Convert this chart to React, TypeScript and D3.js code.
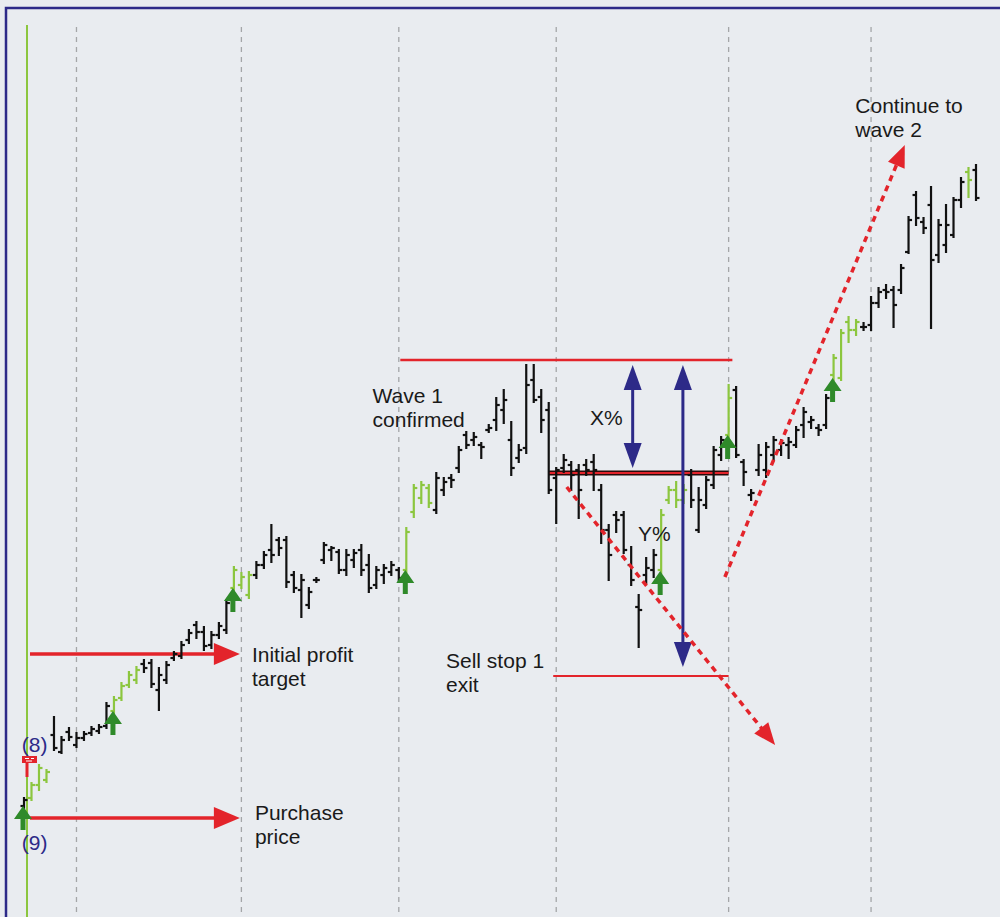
import React, { useEffect, useRef } from "react";
import * as d3 from "d3";

// OHLC bars (arbitrary price units)
const opens = [
  9.4, 10.2, 11.5, 12.0, 16.5, 14.8, 16.8, 15.5, 16.2, 16.7,
  16.9, 17.4, 18.9, 20.2, 21.5, 22.0, 23.6, 23.7, 21.0, 22.0,
  24.2, 24.4, 26.0, 27.5, 26.8, 25.5, 26.5, 27.0, 31.2, 31.5,
  30.5, 32.5, 33.5, 35.0, 36.0, 36.0, 32.5, 31.0, 29.5, 32.0,
  34.0, 35.0, 34.8, 33.0, 34.0, 35.0, 33.5, 31.5, 32.5, 32.8,
  33.0, 33.0, 38.8, 40.2, 41.2, 39.0, 41.0, 42.2, 43.2, 46.5,
  46.0, 45.5, 47.0, 48.0, 49.0, 46.0, 44.2, 45.2, 52.0, 50.3,
  49.0, 42.2, 43.2, 43.5, 43.0, 43.5, 43.8, 41.0, 37.0, 38.5,
  38.5, 33.5, 29.3, 32.5, 33.0, 33.0, 40.0, 41.0, 40.0, 42.5,
  37.0, 39.5, 41.5, 44.5, 46.5, 51.0, 43.8, 40.5, 43.0, 43.0,
  44.5, 45.0, 45.5, 45.5, 47.5, 47.8, 47.2, 47.5, 52.5, 52.2,
  57.8, 57.0, 57.3, 57.5, 59.7, 61.0, 61.0, 61.0, 64.8, 70.5,
  67.8, 69.5, 64.5, 65.5, 66.5, 70.0, 72.8, 73.0,
];
const highs = [
  10.2, 11.7, 13.5, 13.0, 18.3, 16.3, 17.2, 16.7, 16.8, 17.3,
  17.5, 19.7, 20.3, 21.7, 22.8, 23.3, 24.0, 24.0, 23.2, 23.8,
  24.8, 25.8, 27.0, 27.8, 27.3, 26.8, 27.7, 30.0, 33.3, 32.7,
  32.8, 33.8, 34.8, 37.5, 36.2, 36.3, 32.8, 32.5, 31.2, 32.2,
  35.7, 35.3, 35.0, 35.0, 35.0, 35.5, 34.5, 33.3, 33.5, 33.8,
  33.2, 37.2, 41.5, 41.8, 41.5, 42.7, 42.2, 42.5, 45.3, 46.8,
  46.7, 45.7, 47.5, 50.2, 51.0, 47.8, 45.5, 53.5, 53.5, 51.0,
  49.7, 43.2, 44.5, 43.8, 43.5, 44.0, 44.5, 41.5, 37.5, 38.8,
  38.8, 35.3, 30.5, 34.2, 35.0, 39.0, 41.3, 41.8, 41.5, 43.0,
  41.2, 42.3, 45.3, 46.3, 51.5, 51.3, 44.0, 41.0, 45.5, 45.7,
  46.3, 46.0, 46.2, 47.3, 49.2, 48.3, 47.5, 50.5, 54.5, 57.0,
  58.3, 58.0, 57.7, 60.3, 61.2, 61.5, 61.3, 63.5, 68.3, 70.8,
  68.2, 71.3, 68.0, 69.5, 70.2, 72.2, 73.2, 73.5,
];
const lows = [
  9.2, 10.0, 11.0, 11.8, 15.0, 14.7, 16.0, 15.3, 16.0, 16.5,
  16.7, 17.2, 18.7, 20.0, 21.3, 21.7, 22.8, 21.3, 19.0, 21.7,
  24.0, 24.2, 25.7, 26.2, 25.0, 25.2, 26.2, 26.7, 31.0, 31.2,
  30.2, 32.2, 33.2, 33.8, 34.5, 31.3, 30.8, 28.3, 29.2, 31.8,
  33.7, 34.0, 32.7, 32.5, 33.3, 32.5, 30.8, 31.2, 31.7, 32.5,
  31.8, 32.8, 38.3, 39.7, 39.3, 38.7, 40.5, 41.3, 42.8, 45.2,
  45.5, 44.2, 46.8, 47.0, 47.7, 42.5, 43.8, 44.7, 49.8, 46.8,
  40.7, 37.7, 42.8, 41.0, 38.2, 42.5, 41.0, 35.7, 32.0, 36.8,
  34.7, 31.5, 25.3, 31.7, 32.3, 32.7, 39.7, 39.3, 39.7, 39.3,
  36.8, 39.2, 41.2, 44.0, 46.3, 44.3, 41.5, 40.0, 42.5, 42.3,
  44.0, 44.5, 44.2, 45.3, 46.3, 47.2, 46.5, 47.2, 52.0, 52.0,
  55.8, 56.5, 57.0, 57.0, 59.3, 60.2, 57.3, 60.7, 64.7, 67.5,
  66.7, 57.2, 63.8, 64.8, 66.3, 69.3, 70.3, 70.0,
];
const closes = [
  10.0, 11.5, 13.2, 12.8, 15.2, 16.0, 16.3, 16.2, 16.6, 17.1,
  17.3, 19.4, 20.0, 21.4, 22.5, 23.0, 23.2, 21.6, 22.5, 23.5,
  24.6, 25.5, 26.7, 26.8, 25.4, 26.5, 27.4, 29.7, 33.0, 32.3,
  32.5, 33.5, 34.5, 34.5, 35.2, 31.8, 31.2, 32.0, 30.8, 32.0,
  35.5, 35.2, 33.0, 34.5, 34.7, 33.0, 31.2, 33.0, 33.2, 33.5,
  32.2, 36.8, 41.2, 41.5, 39.7, 42.2, 41.8, 42.0, 45.0, 45.5,
  46.3, 45.3, 47.2, 49.5, 50.0, 43.2, 45.0, 51.5, 50.0, 48.0,
  41.0, 43.0, 44.0, 42.5, 41.0, 43.0, 43.0, 37.0, 34.5, 38.0,
  35.0, 32.0, 29.0, 33.2, 34.5, 38.5, 41.0, 40.0, 41.0, 40.0,
  40.0, 42.0, 45.0, 46.0, 50.2, 44.5, 42.8, 40.7, 44.5, 45.3,
  46.0, 45.7, 45.8, 47.0, 48.8, 48.0, 47.0, 50.2, 54.2, 56.7,
  57.0, 57.8, 57.3, 59.7, 60.8, 60.8, 59.5, 63.2, 68.0, 68.2,
  67.2, 64.0, 67.5, 67.5, 70.0, 71.8, 72.0, 70.2,
];

// bars drawn in light green (in a buy run) and bars with a buy arrow
const greenBars = [1, 2, 3, 12, 13, 14, 15, 28, 29, 30, 51, 52, 53, 54, 85, 86, 87, 88, 94, 108, 109, 110, 111, 126];
const signalBars = [0, 12, 28, 51, 85, 94, 108];
const monthStarts = [7, 29, 50, 71, 94, 113];

// horizontal levels: [price, fromBar, toBar]
const purchaseLine = [8.2, 0.8, 28.8];
const profitLine = [24.6, 0.8, 28.8];
const wave1Line = [54.0, 50.2, 94.5];
const retraceLine = [42.7, 70, 94];
const sellStopLine = [22.4, 70.6, 94];

// blue double arrows: [bar, lowPrice, highPrice]
const blueArrows = [
  [81.2, 43.2, 53.5],
  [87.9, 23.3, 53.5],
];

// dashed trend arrows: [fromBar, fromPrice, toBar, toPrice]
const trendArrows = [
  [72.4, 41.3, 100.2, 15.5],
  [93.5, 32.3, 117.5, 75.5],
];

// text labels: [bar, baseline price, lines, color]
const labels = [
  [110.9, 78.7, ["Continue to", "wave 2"], "#1a1a1a"],
  [46.5, 49.7, ["Wave 1", "confirmed"], "#1a1a1a"],
  [75.5, 47.5, ["X%"], "#1a1a1a"],
  [81.9, 35.9, ["Y%"], "#1a1a1a"],
  [30.4, 23.8, ["Initial profit", "target"], "#1a1a1a"],
  [56.3, 23.2, ["Sell stop 1", "exit"], "#1a1a1a"],
  [30.8, 8.0, ["Purchase", "price"], "#1a1a1a"],
  [-0.3, 14.8, ["(8)"], "#2d2a88"],
  [-0.3, 5.0, ["(9)"], "#2d2a88"],
];

const W = 1000;
const H = 917;
const RED = "#e3242b";
const BLUE = "#2d2a88";
const LIGHT_GREEN = "#8cc63f";
const DARK_GREEN = "#2f8a2a";
const FONT = "'Liberation Sans', Arial, sans-serif";

function head(tx: number, ty: number, ang: number, len: number, hw: number) {
  // triangle with tip at (tx, ty) pointing along ang
  const bx = tx - Math.cos(ang) * len;
  const by = ty - Math.sin(ang) * len;
  const px = -Math.sin(ang) * hw;
  const py = Math.cos(ang) * hw;
  return `M${tx},${ty}L${bx + px},${by + py}L${bx - px},${by - py}Z`;
}

export default function App() {
  const ref = useRef<SVGSVGElement>(null);

  useEffect(() => {
    const svg = d3.select(ref.current);
    svg.selectAll("*").remove();

    const x = d3.scaleLinear().domain([0, 127]).range([24, 976]);
    const y = d3.scaleLinear().domain([0, 90]).range([900, 0]);

    svg.append("rect").attr("width", W).attr("height", H).attr("fill", "#e9ecf0");

    // month separators
    svg
      .selectAll(".grid")
      .data(monthStarts)
      .enter()
      .append("line")
      .attr("x1", d => x(d))
      .attr("x2", d => x(d))
      .attr("y1", 27)
      .attr("y2", H)
      .attr("stroke", "#a4a6a8")
      .attr("stroke-width", 1.3)
      .attr("stroke-dasharray", "5,5");

    // frame
    svg
      .append("path")
      .attr("d", `M6,${H}L6,8L${W},8`)
      .attr("fill", "none")
      .attr("stroke", BLUE)
      .attr("stroke-width", 2.5);

    // green start line
    svg
      .append("line")
      .attr("x1", x(0) + 3)
      .attr("x2", x(0) + 3)
      .attr("y1", 25)
      .attr("y2", H)
      .attr("stroke", LIGHT_GREEN)
      .attr("stroke-width", 2);

    // red horizontal levels
    const level = (l: number[], w: number) =>
      svg
        .append("line")
        .attr("x1", x(l[1]))
        .attr("x2", x(l[2]))
        .attr("y1", y(l[0]))
        .attr("y2", y(l[0]))
        .attr("stroke", RED)
        .attr("stroke-width", w);
    level(wave1Line, 2.5);
    level(sellStopLine, 2.2);
    svg
      .append("line")
      .attr("x1", x(retraceLine[1]))
      .attr("x2", x(retraceLine[2]))
      .attr("y1", y(retraceLine[0]))
      .attr("y2", y(retraceLine[0]))
      .attr("stroke", "#2a0a0a")
      .attr("stroke-width", 5);
    level(retraceLine, 2.2);

    // red horizontal arrows
    [purchaseLine, profitLine].forEach(l => {
      const tip = x(l[2]);
      svg
        .append("line")
        .attr("x1", x(l[1]))
        .attr("x2", tip - 20)
        .attr("y1", y(l[0]))
        .attr("y2", y(l[0]))
        .attr("stroke", RED)
        .attr("stroke-width", 3.5);
      svg.append("path").attr("d", head(tip, y(l[0]), 0, 26, 11)).attr("fill", RED);
    });

    // OHLC bars
    const idx = d3.range(opens.length);
    const color = (i: number) => (greenBars.includes(i) ? LIGHT_GREEN : "#111");
    const bars = svg.append("g").attr("stroke-width", 2.2).attr("fill", "none");
    idx.forEach(i => {
      const g = bars.append("g").attr("stroke", color(i));
      g.append("line")
        .attr("x1", x(i))
        .attr("x2", x(i))
        .attr("y1", y(highs[i]) - 1)
        .attr("y2", y(lows[i]) + 1);
      g.append("line")
        .attr("x1", x(i) - 3.5)
        .attr("x2", x(i))
        .attr("y1", y(opens[i]))
        .attr("y2", y(opens[i]));
      g.append("line")
        .attr("x1", x(i))
        .attr("x2", x(i) + 3.5)
        .attr("y1", y(closes[i]))
        .attr("y2", y(closes[i]));
    });

    // red stop marker on first bar
    svg
      .append("line")
      .attr("x1", x(0) + 3)
      .attr("x2", x(0) + 3)
      .attr("y1", y(13.7))
      .attr("y2", y(12.3))
      .attr("stroke", RED)
      .attr("stroke-width", 3);
    svg
      .append("rect")
      .attr("x", x(0) - 2)
      .attr("y", y(14.4))
      .attr("width", 15)
      .attr("height", 7)
      .attr("fill", RED);
    svg
      .append("path")
      .attr("d", `M${x(0) + 1},${y(14.4) + 2.5}h4M${x(0) + 7},${y(14.4) + 2.5}h3M${x(0) + 2},${y(14.4) + 5}h6`)
      .attr("stroke", "#fff")
      .attr("stroke-width", 1);

    // buy arrows under signal bars
    svg
      .selectAll(".buy")
      .data(signalBars)
      .enter()
      .append("path")
      .attr("class", "buy")
      .attr("fill", DARK_GREEN)
      .attr("d", i => {
        const cx = x(i) - 1;
        const ty = y(lows[i]) - 2;
        return `M${cx},${ty}L${cx + 9},${ty + 13}L${cx + 2.5},${ty + 13}L${cx + 2.5},${ty + 24}L${cx - 2.5},${ty + 24}L${cx - 2.5},${ty + 13}L${cx - 9},${ty + 13}Z`;
      });

    // blue double arrows
    blueArrows.forEach(a => {
      const bx = x(a[0]);
      const y0 = y(a[1]);
      const y1 = y(a[2]);
      svg
        .append("line")
        .attr("x1", bx)
        .attr("x2", bx)
        .attr("y1", y1 + 15)
        .attr("y2", y0 - 15)
        .attr("stroke", BLUE)
        .attr("stroke-width", 3);
      svg.append("path").attr("d", head(bx, y1, -Math.PI / 2, 25, 9)).attr("fill", BLUE);
      svg.append("path").attr("d", head(bx, y0, Math.PI / 2, 25, 9)).attr("fill", BLUE);
    });

    // dashed trend arrows
    trendArrows.forEach(t => {
      const x0 = x(t[0]);
      const y0 = y(t[1]);
      const x1 = x(t[2]);
      const y1 = y(t[3]);
      const ang = Math.atan2(y1 - y0, x1 - x0);
      svg
        .append("line")
        .attr("x1", x0)
        .attr("y1", y0)
        .attr("x2", x1 - Math.cos(ang) * 14)
        .attr("y2", y1 - Math.sin(ang) * 14)
        .attr("stroke", RED)
        .attr("stroke-width", 3.5)
        .attr("stroke-dasharray", "6,5");
      svg.append("path").attr("d", head(x1, y1, ang, 22, 9)).attr("fill", RED);
    });

    // labels, one text element per line
    labels.forEach(l => {
      (l[2] as string[]).forEach((s, k) => {
        svg
          .append("text")
          .attr("x", x(l[0] as number))
          .attr("y", y(l[1] as number) + k * 24)
          .attr("fill", l[3] as string)
          .style("font-family", FONT)
          .style("font-size", "21px")
          .text(s);
      });
    });
  }, []);

  return (
    <svg
      ref={ref}
      width={W}
      height={H}
      style={{ position: "absolute", left: 0, top: 0, display: "block" }}
    />
  );
}
